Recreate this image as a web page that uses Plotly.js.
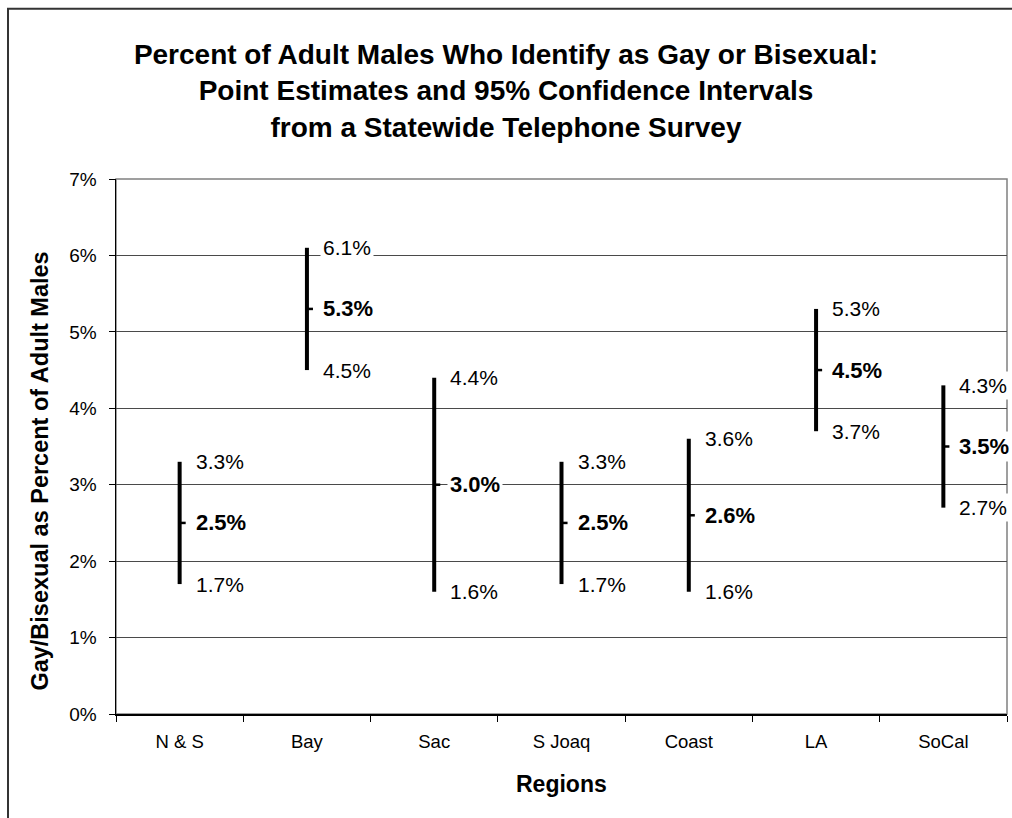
<!DOCTYPE html>
<html>
<head>
<meta charset="utf-8">
<script src="https://cdn.plot.ly/plotly-3.0.1.min.js"></script>
<style>html,body{margin:0;padding:0;background:#fff;}#chart{width:1012px;height:818px;}</style>
</head>
<body>
<div id="chart"></div>
<script>
// Data (percent)
const regions = ["N & S", "Bay", "Sac", "S Joaq", "Coast", "LA", "SoCal"];
const estimate = [2.5, 5.3, 3.0, 2.5, 2.6, 4.5, 3.5];
const upper = [3.3, 6.1, 4.4, 3.3, 3.6, 5.3, 4.3];
const lower = [1.7, 4.5, 1.6, 1.7, 1.6, 3.7, 2.7];
const yTicks = [0, 1, 2, 3, 4, 5, 6, 7];

const FONT = "Liberation Sans, Arial, Helvetica, sans-serif";

// confidence interval bars
const barTrace = {
  type: "scatter",
  mode: "markers",
  x: regions,
  y: estimate,
  marker: { size: 0.1, color: "rgba(0,0,0,0)" },
  error_y: {
    type: "data",
    symmetric: false,
    array: upper.map((u, i) => +(u - estimate[i]).toFixed(2)),
    arrayminus: lower.map((l, i) => +(estimate[i] - l).toFixed(2)),
    width: 0,
    thickness: 4,
    color: "#000"
  },
  hoverinfo: "skip",
  showlegend: false,
  cliponaxis: false
};

// point-estimate tick (drawn on a slightly shifted overlay axis so it sticks out to the right)
const tickTrace = {
  type: "scatter",
  mode: "markers",
  x: regions,
  y: estimate,
  xaxis: "x2",
  marker: { symbol: "line-ew-open", size: 5, color: "#000", line: { color: "#000", width: 2.5 } },
  hoverinfo: "skip",
  showlegend: false,
  cliponaxis: false
};

const fmt = v => v.toFixed(1) + "%";
const annotations = [];
regions.forEach((r, i) => {
  annotations.push({ x: r, y: upper[i], xref: "x", yref: "y", text: fmt(upper[i]), showarrow: false,
    xanchor: "left", yanchor: "middle", xshift: 13, bgcolor: "#fff", borderpad: 2,
    font: { family: FONT, size: 21, color: "#000" } });
  annotations.push({ x: r, y: estimate[i], xref: "x", yref: "y", text: "<b>" + fmt(estimate[i]) + "</b>", showarrow: false,
    xanchor: "left", yanchor: "middle", xshift: 13, bgcolor: "#fff", borderpad: 2,
    font: { family: FONT, size: 22, color: "#000" } });
  annotations.push({ x: r, y: lower[i], xref: "x", yref: "y", text: fmt(lower[i]), showarrow: false,
    xanchor: "left", yanchor: "middle", xshift: 13, bgcolor: "#fff", borderpad: 2,
    font: { family: FONT, size: 21, color: "#000" } });
});

// Axis titles
annotations.push({ xref: "paper", yref: "paper", x: -0.0853, y: 0.455, xanchor: "center", yanchor: "middle",
  textangle: -90, showarrow: false, text: "<b>Gay/Bisexual as Percent of Adult Males</b>",
  font: { family: FONT, size: 23.5, color: "#000" } });
annotations.push({ xref: "paper", yref: "paper", x: 0.5, y: -0.131, xanchor: "center", yanchor: "middle",
  showarrow: false, text: "<b>Regions</b>",
  font: { family: FONT, size: 23, color: "#000" } });

const layout = {
  width: 1012,
  height: 818,
  margin: { l: 116, r: 5, t: 179, b: 104, pad: 0 },
  paper_bgcolor: "#fff",
  plot_bgcolor: "#fff",
  font: { family: FONT, color: "#000" },
  title: {
    text: "Percent of Adult Males Who Identify as Gay or Bisexual:<br>Point Estimates and 95% Confidence Intervals<br>from a Statewide Telephone Survey",
    font: { family: FONT, size: 28, weight: "bold", color: "#000" },
    x: 0.5, xanchor: "center", xref: "container",
    y: 0.922, yanchor: "top", yref: "container"
  },
  xaxis: {
    type: "category",
    categoryorder: "array",
    categoryarray: regions,
    range: [-0.5, regions.length - 0.5],
    tickson: "boundaries",
    ticks: "outside",
    ticklen: 6,
    tickcolor: "#000",
    tickwidth: 1,
    showline: true,
    linecolor: "#000",
    linewidth: 1.5,
    showgrid: false,
    zeroline: false,
    ticklabelstandoff: 10,
    tickfont: { family: FONT, size: 18.5, color: "#000" }
  },
  xaxis2: {
    type: "category",
    categoryorder: "array",
    categoryarray: regions,
    range: [-0.5 - 0.02, regions.length - 0.5 - 0.02],
    overlaying: "x",
    visible: false,
    showgrid: false,
    zeroline: false
  },
  yaxis: {
    range: [0, 7],
    tickvals: yTicks,
    ticktext: yTicks.map(v => v + "%"),
    ticks: "outside",
    ticklen: 6,
    tickcolor: "#000",
    tickwidth: 1,
    showline: true,
    linecolor: "#000",
    linewidth: 1.5,
    showgrid: true,
    gridcolor: "#4a4a4a",
    gridwidth: 1,
    zeroline: false,
    ticklabelstandoff: 8,
    tickfont: { family: FONT, size: 19, color: "#000" }
  },
  shapes: [
    { type: "rect", xref: "paper", yref: "paper", x0: 0, x1: 1, y0: 0, y1: 1,
      line: { color: "#808080", width: 1.5 }, layer: "below" },
    { type: "rect", xref: "paper", yref: "paper", x0: -0.1212, x1: 1.03, y0: -0.3, y1: 1.318,
      line: { color: "#333", width: 2 }, layer: "above" }
  ],
  annotations: annotations
};

Plotly.newPlot("chart", [barTrace, tickTrace], layout, { displayModeBar: false, staticPlot: true });
</script>
</body>
</html>
